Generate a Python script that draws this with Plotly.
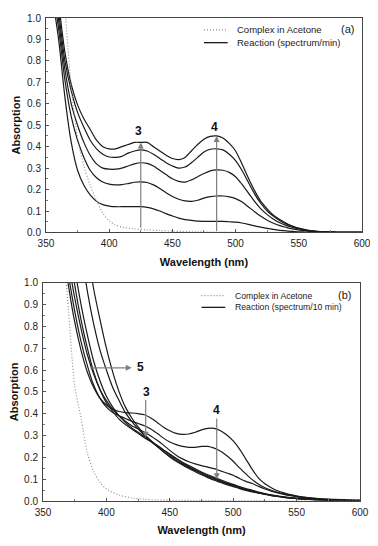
import plotly.graph_objects as go

# ---- panel (a): one spectrum per minute ----
wl_a = [355, 360, 365, 370, 375, 380, 385, 390, 395, 400, 405, 410, 415, 420, 425,
        430, 435, 440, 445, 450, 455, 460, 465, 470, 475, 480, 485, 490, 495, 500,
        505, 510, 515, 520, 525, 530, 535, 540, 545, 550, 555, 560, 570, 580, 590, 600]

a1 = [1.3, 1.07, 0.84, 0.69, 0.595, 0.53, 0.48, 0.43, 0.40, 0.39, 0.39, 0.40, 0.41, 0.42, 0.42,
      0.42, 0.40, 0.38, 0.36, 0.345, 0.34, 0.35, 0.38, 0.41, 0.435, 0.448, 0.45, 0.44, 0.415, 0.38,
      0.32, 0.255, 0.195, 0.145, 0.11, 0.08, 0.06, 0.043, 0.03, 0.02, 0.013, 0.008, 0.003, 0.001, 0, 0]
a2 = [1.25, 1.03, 0.80, 0.66, 0.56, 0.49, 0.43, 0.39, 0.365, 0.352, 0.35, 0.355, 0.37, 0.38, 0.385,
      0.38, 0.365, 0.345, 0.325, 0.31, 0.30, 0.305, 0.325, 0.35, 0.375, 0.388, 0.39, 0.385, 0.365, 0.335,
      0.29, 0.235, 0.18, 0.135, 0.10, 0.075, 0.055, 0.04, 0.028, 0.018, 0.012, 0.007, 0.003, 0.001, 0, 0]
a3 = [1.2, 0.99, 0.76, 0.60, 0.50, 0.42, 0.36, 0.32, 0.30, 0.295, 0.295, 0.30, 0.31, 0.32, 0.325,
      0.322, 0.31, 0.29, 0.27, 0.25, 0.238, 0.235, 0.245, 0.26, 0.275, 0.287, 0.292, 0.29, 0.28, 0.26,
      0.225, 0.185, 0.145, 0.11, 0.083, 0.062, 0.045, 0.033, 0.024, 0.016, 0.01, 0.006, 0.002, 0.001, 0, 0]
a4 = [1.15, 0.95, 0.71, 0.54, 0.43, 0.35, 0.29, 0.255, 0.235, 0.225, 0.222, 0.223, 0.228, 0.234, 0.236,
      0.233, 0.222, 0.205, 0.185, 0.168, 0.155, 0.147, 0.145, 0.15, 0.16, 0.167, 0.17, 0.17, 0.166, 0.158,
      0.143, 0.12, 0.097, 0.075, 0.057, 0.043, 0.032, 0.024, 0.017, 0.012, 0.008, 0.005, 0.002, 0.001, 0, 0]
a5 = [1.1, 0.9, 0.63, 0.42, 0.29, 0.22, 0.175, 0.145, 0.13, 0.123, 0.12, 0.12, 0.12, 0.12, 0.12,
      0.117, 0.11, 0.1, 0.088, 0.077, 0.067, 0.06, 0.056, 0.053, 0.052, 0.052, 0.052, 0.052, 0.05, 0.048,
      0.044, 0.038, 0.031, 0.025, 0.019, 0.014, 0.01, 0.007, 0.005, 0.003, 0.002, 0.001, 0, 0, 0, 0]

# complex alone in acetone
wl_ref_a = [360, 365, 370, 375, 380, 385, 390, 395, 400, 405, 410, 420, 430, 440, 450, 470, 500, 550, 600]
ref_a = [1.5, 1.05, 0.68, 0.44, 0.31, 0.22, 0.15, 0.09, 0.055, 0.035, 0.025, 0.017, 0.012, 0.009,
         0.006, 0.003, 0.001, 0, 0]

# ---- panel (b): one spectrum per 10 min ----
wl_b = [365, 370, 375, 380, 385, 390, 395, 400, 405, 410, 415, 420, 425, 430, 435, 440, 445, 450,
        455, 460, 465, 470, 475, 480, 485, 490, 495, 500, 505, 510, 515, 520, 525, 530, 535, 540,
        545, 550, 555, 560, 570, 580, 590, 600]

b1 = [1.2, 0.99, 0.82, 0.69, 0.59, 0.52, 0.47, 0.44, 0.42, 0.41, 0.405, 0.403, 0.40, 0.395, 0.38,
      0.36, 0.338, 0.322, 0.31, 0.305, 0.307, 0.315, 0.326, 0.333, 0.333, 0.322, 0.302, 0.275, 0.238,
      0.192, 0.145, 0.105, 0.079, 0.061, 0.047, 0.037, 0.029, 0.023, 0.018, 0.015, 0.01, 0.007, 0.005, 0.004]
b2 = [1.25, 1.04, 0.87, 0.73, 0.62, 0.53, 0.47, 0.43, 0.405, 0.39, 0.378, 0.365, 0.355, 0.345, 0.33,
      0.31, 0.288, 0.27, 0.258, 0.25, 0.246, 0.246, 0.25, 0.25, 0.242, 0.228, 0.207, 0.182, 0.152,
      0.124, 0.098, 0.077, 0.061, 0.049, 0.04, 0.033, 0.027, 0.022, 0.018, 0.015, 0.01, 0.006, 0.004, 0.003]
b3 = [1.3, 1.1, 0.93, 0.79, 0.67, 0.58, 0.51, 0.46, 0.42, 0.39, 0.365, 0.345, 0.33, 0.315, 0.298,
      0.278, 0.256, 0.232, 0.21, 0.193, 0.18, 0.17, 0.162, 0.155, 0.148, 0.138, 0.128, 0.118, 0.103,
      0.09, 0.08, 0.067, 0.055, 0.045, 0.037, 0.03, 0.024, 0.019, 0.015, 0.012, 0.007, 0.004, 0.002, 0.001]
b4 = [1.5, 1.2, 0.99, 0.83, 0.70, 0.59, 0.51, 0.45, 0.41, 0.375, 0.35, 0.33, 0.31, 0.29, 0.272,
      0.253, 0.234, 0.215, 0.196, 0.178, 0.162, 0.147, 0.133, 0.12, 0.108, 0.097, 0.086, 0.076, 0.066,
      0.057, 0.049, 0.041, 0.034, 0.028, 0.023, 0.019, 0.015, 0.012, 0.01, 0.008, 0.005, 0.003, 0.002, 0.001]
b5 = [1.6, 1.3, 1.07, 0.9, 0.76, 0.64, 0.55, 0.48, 0.43, 0.39, 0.36, 0.335, 0.315, 0.295, 0.275,
      0.255, 0.234, 0.212, 0.192, 0.174, 0.157, 0.142, 0.128, 0.115, 0.103, 0.092, 0.082, 0.072, 0.062,
      0.053, 0.045, 0.038, 0.032, 0.026, 0.022, 0.018, 0.014, 0.012, 0.01, 0.008, 0.005, 0.003, 0.002, 0.001]
b6 = [1.9, 1.6, 1.35, 1.16, 0.96, 0.81, 0.69, 0.60, 0.52, 0.46, 0.405, 0.365, 0.33, 0.30, 0.274,
      0.25, 0.226, 0.205, 0.186, 0.169, 0.153, 0.139, 0.125, 0.112, 0.1, 0.089, 0.079, 0.069, 0.06,
      0.052, 0.044, 0.037, 0.031, 0.026, 0.021, 0.017, 0.014, 0.011, 0.009, 0.007, 0.005, 0.003, 0.002, 0.001]
b7 = [2.1, 1.8, 1.55, 1.33, 1.15, 0.97, 0.83, 0.70, 0.59, 0.50, 0.43, 0.38, 0.34, 0.305, 0.277,
      0.25, 0.225, 0.202, 0.182, 0.165, 0.149, 0.134, 0.12, 0.107, 0.095, 0.085, 0.075, 0.066, 0.057,
      0.049, 0.042, 0.036, 0.03, 0.025, 0.021, 0.017, 0.014, 0.011, 0.009, 0.007, 0.005, 0.003, 0.002, 0.001]

wl_ref_b = [365, 370, 375, 380, 385, 390, 395, 400, 410, 420, 430, 440, 460, 500, 550, 600]
ref_b = [1.25, 0.88, 0.53, 0.38, 0.22, 0.135, 0.085, 0.055, 0.027, 0.014, 0.008, 0.005, 0.003, 0.001, 0, 0]

reaction_a = [a1, a2, a3, a4, a5]
reaction_b = [b1, b2, b3, b4, b5, b6, b7]

LINE = '#1a1a1a'
GREY = '#8a8a8a'
DOTS = '1px,2px'
FONT = 'Arial'

fig = go.Figure()

for ys in reaction_a:
  fig.add_trace(go.Scatter(x=wl_a, y=ys, mode='lines', showlegend=False,
                           line=dict(color=LINE, width=1.2, shape='spline', smoothing=0.8),
                           xaxis='x', yaxis='y'))
fig.add_trace(go.Scatter(x=wl_ref_a, y=ref_a, mode='lines', showlegend=False,
                         line=dict(color=GREY, width=1.1, dash=DOTS, shape='spline', smoothing=0.8),
                         xaxis='x', yaxis='y'))

for ys in reaction_b:
  fig.add_trace(go.Scatter(x=wl_b, y=ys, mode='lines', showlegend=False,
                           line=dict(color=LINE, width=1.2, shape='spline', smoothing=0.8),
                           xaxis='x2', yaxis='y2'))
fig.add_trace(go.Scatter(x=wl_ref_b, y=ref_b, mode='lines', showlegend=False,
                         line=dict(color=GREY, width=1.1, dash=DOTS, shape='spline', smoothing=0.8),
                         xaxis='x2', yaxis='y2'))

axis_common = dict(showline=True, linecolor='#444', linewidth=1, mirror=True,
                   ticks='inside', ticklen=3, tickcolor='#555', showgrid=False, zeroline=False,
                   tickfont=dict(family=FONT, size=10, color='#222'))
xcommon = dict(axis_common, range=[350, 600], tick0=350, dtick=50, ticklabelstandoff=2,
               minor=dict(dtick=25, ticks='inside', ticklen=2, tickcolor='#777'),
               title=dict(text='Wavelength (nm)', standoff=9,
                          font=dict(family=FONT, size=11, color='#111', weight='bold')))
ycommon = dict(axis_common, range=[0, 1], dtick=0.1, tickformat='.1f', ticklabelstandoff=2,
               minor=dict(dtick=0.05, ticks='inside', ticklen=2, tickcolor='#777'),
               title=dict(text='Absorption', standoff=4,
                          font=dict(family=FONT, size=11, color='#111', weight='bold')))

# the page puts the figure 8px in from the top-left corner, margins allow for that
fig.update_layout(
  width=378, height=546,
  margin=dict(l=32, r=24, t=4, b=53),
  paper_bgcolor='white', plot_bgcolor='white',
  showlegend=False,
  xaxis=dict(xcommon, domain=[0.0093, 1.0], anchor='y'),
  yaxis=dict(ycommon, domain=[0.556, 1.0], anchor='x'),
  xaxis2=dict(xcommon, domain=[0.0, 0.9938], anchor='y2'),
  yaxis2=dict(ycommon, domain=[0.0, 0.452], anchor='x2'),
)

# hand-made legends, one per panel
legend_rows = [
  ('x', 'y', 'Complex in Acetone', GREY, DOTS, 0.945, 9.5),
  ('x', 'y', 'Reaction (spectrum/min)', LINE, 'solid', 0.885, 9.5),
  ('x2', 'y2', 'Complex in Acetone', GREY, DOTS, 0.941, 8.7),
  ('x2', 'y2', 'Reaction (spectrum/10 min)', LINE, 'solid', 0.887, 8.7),
]
for xr, yr, label, col, dash, yy, fs in legend_rows:
  fig.add_shape(type='line', xref=xr + ' domain', yref=yr + ' domain',
                x0=0.50, x1=0.575, y0=yy, y1=yy,
                line=dict(color=col, width=1.3, dash=dash))
  fig.add_annotation(xref=xr + ' domain', yref=yr + ' domain', x=0.598, y=yy,
                     text=label, showarrow=False, xanchor='left', yanchor='middle',
                     font=dict(family=FONT, size=fs, color='#222'))

fig.add_annotation(xref='x domain', yref='y domain', x=0.955, y=0.948, text='(a)',
                   showarrow=False, xanchor='center', yanchor='middle',
                   font=dict(family=FONT, size=11, color='#222'))
fig.add_annotation(xref='x2 domain', yref='y2 domain', x=0.95, y=0.944, text='(b)',
                   showarrow=False, xanchor='center', yanchor='middle',
                   font=dict(family=FONT, size=11, color='#222'))

# arrows: (panel, head x, head y, tail x, tail y)
arrows = [
  ('', 425, 0.42, 425, 0.015),
  ('', 485, 0.45, 485, 0.0),
  ('2', 431, 0.29, 431, 0.47),
  ('2', 487, 0.10, 487, 0.385),
  ('2', 420, 0.61, 386, 0.61),
]
for p, hx, hy, tx, ty in arrows:
  fig.add_annotation(xref='x' + p, yref='y' + p, axref='x' + p, ayref='y' + p,
                     x=hx, y=hy, ax=tx, ay=ty, text='', showarrow=True,
                     arrowhead=2, arrowsize=1.0, arrowwidth=1.2, arrowcolor='#808080')

# arrow numbers
labels = [
  ('', 423.5, 0.475, '3'),
  ('', 483.5, 0.49, '4'),
  ('2', 432, 0.50, '3'),
  ('2', 486.5, 0.415, '4'),
  ('2', 427, 0.615, '5'),
]
for p, lx, ly, t in labels:
  fig.add_annotation(xref='x' + p, yref='y' + p, x=lx, y=ly, text=t, showarrow=False,
                     font=dict(family=FONT, size=12, color='#111', weight='bold'))

fig.write_html("out.html")
